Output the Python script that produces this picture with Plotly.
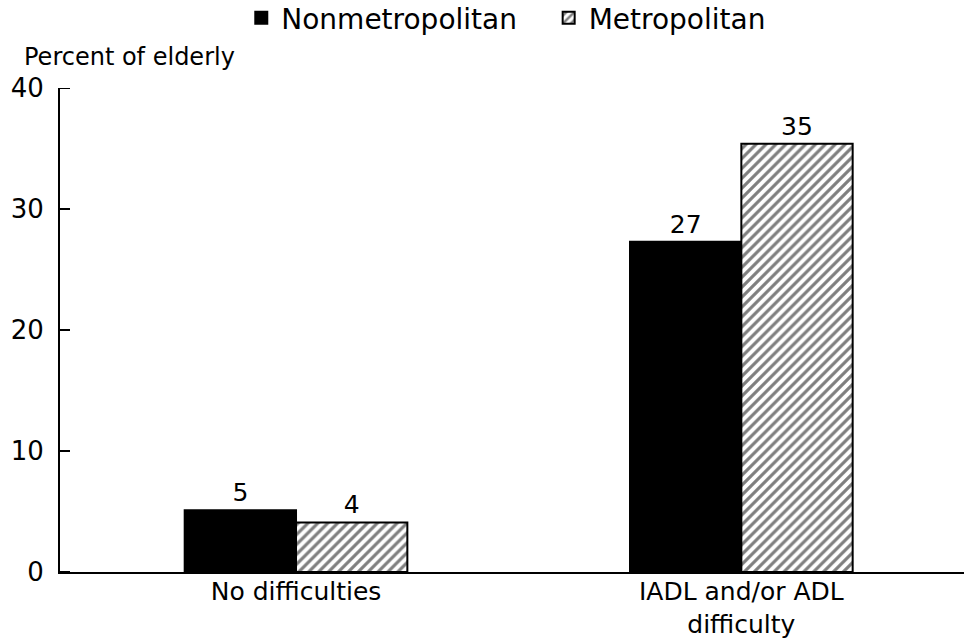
import plotly.graph_objects as go

categories = ["No difficulties", "IADL and/or ADL<br>difficulty"]
nonmetro = [5.1, 27.3]
metro = [4.1, 35.4]
nonmetro_labels = ["5", "27"]
metro_labels = ["4", "35"]
y_ticks = [0, 10, 20, 30, 40]

FONT = "DejaVu Sans, Liberation Sans, Arial, sans-serif"
PAD = "\u00a0" * 3

fig = go.Figure()
fig.add_trace(go.Bar(
    name="Nonmetropolitan" + PAD, x=categories, y=nonmetro,
    text=nonmetro_labels, textposition="outside",
    textfont=dict(size=25, color="black", family=FONT),
    marker=dict(color="black", line=dict(color="black", width=2)),
    cliponaxis=False,
))
fig.add_trace(go.Bar(
    name="Metropolitan", x=categories, y=metro,
    text=metro_labels, textposition="outside",
    textfont=dict(size=25, color="black", family=FONT),
    marker=dict(color="white", line=dict(color="black", width=2),
                pattern=dict(shape="/", fgcolor="black", bgcolor="white",
                             size=7, solidity=0.45)),
    cliponaxis=False,
))

# inward tick marks on the value axis, placed through the y axis scale
tick_shapes = [dict(type="line", xref="paper", xsizemode="pixel", xanchor=0,
                    x0=0, x1=10, yref="y", y0=t, y1=t,
                    line=dict(color="black", width=2), layer="above")
               for t in y_ticks]

fig.update_layout(
    width=969, height=643,
    margin=dict(l=60, r=5, t=88, b=71),
    paper_bgcolor="white", plot_bgcolor="white",
    font=dict(family=FONT, color="black", size=24),
    barmode="group", bargap=0.5, bargroupgap=0,
    showlegend=True,
    legend=dict(orientation="h", x=0.249, xanchor="left", xref="container",
                y=0.972, yanchor="middle", yref="container",
                font=dict(size=28, family=FONT), traceorder="normal",
                itemwidth=30, bgcolor="rgba(0,0,0,0)"),
    xaxis=dict(range=[-0.53, 1.5], showline=True, linecolor="black", linewidth=2,
               ticks="", showgrid=False, zeroline=False, automargin=False,
               ticklabelstandoff=-4,
               tickfont=dict(size=25, family=FONT)),
    yaxis=dict(range=[0, 40], tickmode="array", tickvals=y_ticks, showline=True,
               linecolor="black", linewidth=2, ticks="", automargin=False,
               showgrid=False, zeroline=False, ticklabelstandoff=9,
               tickfont=dict(size=26, family=FONT)),
    shapes=tick_shapes,
    annotations=[dict(text="Percent of elderly", xref="paper", yref="paper",
                      x=-0.042, y=1.03, xanchor="left", yanchor="bottom",
                      showarrow=False, font=dict(size=24, family=FONT))],
)

fig.write_html("out.html", config={"displayModeBar": False},
               post_script="document.body.style.margin='0';")
